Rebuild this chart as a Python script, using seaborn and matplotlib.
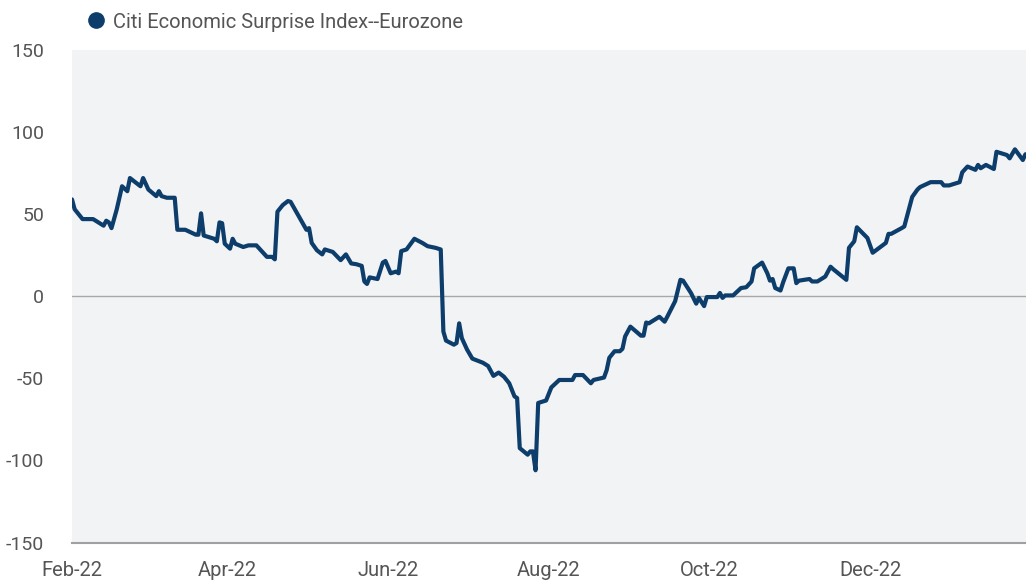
import pandas as pd
import seaborn as sns
import matplotlib.pyplot as plt
import matplotlib.dates as mdates
from matplotlib.lines import Line2D

sns.set_theme(style="white")
plt.rcParams['font.family'] = ['Roboto', 'DejaVu Sans']
plt.rcParams['axes.unicode_minus'] = False

series_name = "Citi Economic Surprise Index--Eurozone"

dates = [
    "2022-02-01", "2022-02-02", "2022-02-05", "2022-02-09", "2022-02-13", "2022-02-14",
    "2022-02-15", "2022-02-16", "2022-02-18", "2022-02-20", "2022-02-22", "2022-02-23",
    "2022-02-27", "2022-02-28", "2022-03-02", "2022-03-05", "2022-03-06", "2022-03-07",
    "2022-03-09", "2022-03-12", "2022-03-13", "2022-03-16", "2022-03-20", "2022-03-21",
    "2022-03-22", "2022-03-23", "2022-03-27", "2022-03-28", "2022-03-29", "2022-03-30",
    "2022-03-31", "2022-04-02", "2022-04-03", "2022-04-04", "2022-04-07", "2022-04-09",
    "2022-04-12", "2022-04-16", "2022-04-18", "2022-04-19", "2022-04-20", "2022-04-22",
    "2022-04-24", "2022-04-25", "2022-05-01", "2022-05-02", "2022-05-03", "2022-05-05",
    "2022-05-07", "2022-05-08", "2022-05-11", "2022-05-14", "2022-05-16", "2022-05-18",
    "2022-05-20", "2022-05-22", "2022-05-23", "2022-05-24", "2022-05-25", "2022-05-28",
    "2022-05-30", "2022-05-31", "2022-06-02", "2022-06-04", "2022-06-05", "2022-06-06",
    "2022-06-08", "2022-06-11", "2022-06-14", "2022-06-16", "2022-06-19", "2022-06-21",
    "2022-06-22", "2022-06-23", "2022-06-26", "2022-06-27", "2022-06-28", "2022-06-29",
    "2022-07-01", "2022-07-03", "2022-07-07", "2022-07-09", "2022-07-11", "2022-07-13",
    "2022-07-15", "2022-07-17", "2022-07-19", "2022-07-20", "2022-07-21", "2022-07-24",
    "2022-07-25", "2022-07-26", "2022-07-27", "2022-07-28", "2022-07-31", "2022-08-02",
    "2022-08-03", "2022-08-05", "2022-08-10", "2022-08-11", "2022-08-14", "2022-08-17",
    "2022-08-18", "2022-08-22", "2022-08-23", "2022-08-24", "2022-08-26", "2022-08-28",
    "2022-08-29", "2022-08-30", "2022-09-01", "2022-09-05", "2022-09-06", "2022-09-07",
    "2022-09-08", "2022-09-12", "2022-09-14", "2022-09-15", "2022-09-18", "2022-09-20",
    "2022-09-21", "2022-09-24", "2022-09-26", "2022-09-27", "2022-09-29", "2022-09-30",
    "2022-10-04", "2022-10-05", "2022-10-06", "2022-10-07", "2022-10-10", "2022-10-13",
    "2022-10-15", "2022-10-17", "2022-10-18", "2022-10-21", "2022-10-23", "2022-10-24",
    "2022-10-25", "2022-10-26", "2022-10-28", "2022-10-29", "2022-10-31", "2022-11-02",
    "2022-11-03", "2022-11-04", "2022-11-08", "2022-11-09", "2022-11-11", "2022-11-14",
    "2022-11-16", "2022-11-17", "2022-11-22", "2022-11-23", "2022-11-25", "2022-11-26",
    "2022-11-30", "2022-12-02", "2022-12-07", "2022-12-08", "2022-12-09", "2022-12-13",
    "2022-12-14", "2022-12-17", "2022-12-19", "2022-12-20", "2022-12-22", "2022-12-24",
    "2022-12-28", "2022-12-29", "2022-12-31", "2023-01-04", "2023-01-05", "2023-01-07",
    "2023-01-10", "2023-01-11", "2023-01-12", "2023-01-14", "2023-01-17", "2023-01-18",
    "2023-01-19", "2023-01-22", "2023-01-23", "2023-01-25", "2023-01-28", "2023-01-29",
]

values = [
    59, 53, 47, 47, 43, 46,
    45, 41.5, 53, 67, 64, 72,
    67, 72, 65, 61, 64, 61,
    60, 60, 40.5, 40.5, 37.5, 37.5,
    50.5, 37, 35, 33.5, 45, 44.5,
    32, 29, 35, 32, 30, 31,
    31, 24, 24, 22.5, 51.5, 55.5,
    58, 57.5, 40.5, 41.5, 32.5, 28,
    25.5, 28.5, 27, 22, 25.5, 20,
    19.5, 18.5, 9, 7.5, 11.5, 10.5,
    20.5, 21.5, 14, 15, 14, 27.5,
    28.5, 35, 32.5, 30.5, 29.5, 28.5,
    -21.5, -27, -29.5, -28.5, -16.5, -25.5,
    -32.5, -38, -40.5, -42.5, -48.5, -46.5,
    -49, -53, -61, -62, -92.5, -96.5,
    -94.5, -94.5, -106, -65, -63.5, -55.5,
    -54, -51, -51, -48, -48, -53,
    -51, -49.5, -45, -37.5, -33.5, -33.5,
    -32, -24.5, -18.5, -24, -24, -16,
    -16.5, -12.5, -15.5, -12.5, -3, 10,
    9.5, 2, -4.5, -1, -6, -0.5,
    -0.5, 2, -1, 0.5, 0.5, 5,
    5.5, 9, 17, 20.5, 14, 9.5,
    10.5, 5, 3.5, 8.5, 17, 17,
    8, 9.5, 10.5, 9, 9, 12,
    18, 16.5, 10, 29.5, 33.5, 42,
    35.5, 26.5, 32.5, 38, 38, 41.5,
    42.5, 60.5, 65, 66.5, 68, 69.5,
    69.5, 67.5, 67.5, 69.5, 75.5, 79,
    77, 80, 78, 80, 77.5, 88,
    87.5, 86, 84, 89.5, 83, 86.5,
]

tick_dates = ["2022-02-01", "2022-04-01", "2022-06-01", "2022-08-01", "2022-10-01", "2022-12-01"]
y_ticks = [-150, -100, -50, 0, 50, 100, 150]

line_color = "#0d3d6b"
text_color = "#555555"

df = pd.DataFrame({"date": pd.to_datetime(dates), "value": values})

fig, ax = plt.subplots(figsize=(10.26, 5.81), dpi=100)
fig.subplots_adjust(left=72 / 1026, right=1.0, top=1 - 50 / 581, bottom=1 - 542.5 / 581)
ax.set_facecolor("#f2f3f5")

ax.axhline(0, color="#a8a8a8", lw=1, zorder=1)
sns.lineplot(data=df, x="date", y="value", color=line_color, linewidth=3.0, ax=ax, zorder=3)

ax.set_xlim(pd.Timestamp("2022-02-01"), pd.Timestamp("2023-01-29 05:00"))
ax.set_ylim(-150, 150)
ax.set_xticks(pd.to_datetime(tick_dates))
ax.xaxis.set_major_formatter(mdates.DateFormatter("%b-%y"))
ax.set_yticks(y_ticks)
ax.set_xlabel("")
ax.set_ylabel("")
ax.tick_params(axis="x", length=0, pad=13, labelsize=14.5, labelcolor=text_color)
ax.tick_params(axis="y", length=0, pad=20, labelsize=14, labelcolor=text_color)
for lbl in ax.get_xticklabels()[:1]:
    lbl.set_x(lbl.get_position()[0])

for side in ["top", "right", "left"]:
    ax.spines[side].set_visible(False)
ax.spines["bottom"].set_color("#a0a0a0")
ax.spines["bottom"].set_linewidth(1.5)

handle = Line2D([], [], marker="o", linestyle="", markersize=11, color=line_color)
fig.legend([handle], [series_name], loc="center left",
           bbox_to_anchor=(86 / 1026, 1 - 22 / 581), frameon=False,
           borderaxespad=0, borderpad=0, handlelength=1, handletextpad=0.35,
           fontsize=14.5, labelcolor=text_color)

plt.savefig("out.png", dpi=100)
plt.close()
